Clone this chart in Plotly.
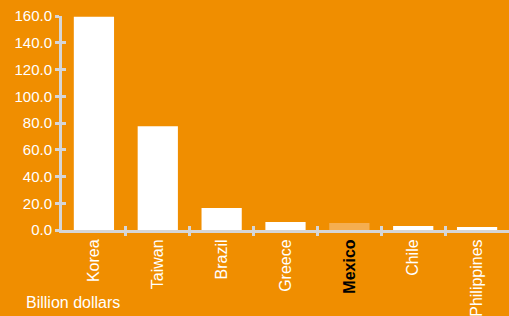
import plotly.graph_objects as go

categories = ["Korea", "Taiwan", "Brazil", "Greece", "Mexico", "Chile", "Philippines"]
values = [159.5, 77.5, 16.5, 6.0, 5.2, 3.0, 2.2]
highlight = "Mexico"
y_ticks = [0, 20, 40, 60, 80, 100, 120, 140, 160]
unit_label = "Billion dollars"

BG = "#F08E00"
AXIS = "#D6D6D6"
FONT = "Arial, Liberation Sans, sans-serif"

n = len(categories)
colors = ["#F5AE50" if c == highlight else "#FFFFFF" for c in categories]
ticktext = [
    f"<b><span style='color:#000000'>{c}</span></b>" if c == highlight else c
    for c in categories
]

fig = go.Figure()
fig.add_trace(go.Bar(x=list(range(n)), y=values, marker=dict(color=colors, line=dict(width=0)),
                     xaxis="x", yaxis="y", hoverinfo="skip"))

xr = [-0.5, n - 0.5]
yr = [0, max(y_ticks)]
bounds = [i + 0.5 for i in range(n - 1)]

fig.update_layout(
    width=509, height=316,
    margin=dict(l=62, r=0, t=16, b=86),
    paper_bgcolor=BG, plot_bgcolor=BG,
    showlegend=False,
    bargap=0.37,
    font=dict(family=FONT, color="#FFFFFF", size=16),
    xaxis=dict(range=xr, tickvals=list(range(n)), ticktext=ticktext, tickangle=-90,
               ticks="", showgrid=False, zeroline=False, showline=True,
               linecolor=AXIS, linewidth=3, tickfont=dict(size=16, color="#FFFFFF"),
               fixedrange=True),
    xaxis2=dict(range=xr, overlaying="x", anchor="y", tickvals=bounds, ticks="outside",
                ticklen=5, tickwidth=3, tickcolor=AXIS, showticklabels=False,
                showgrid=False, zeroline=False, showline=False),
    xaxis3=dict(range=xr, overlaying="x", anchor="y", tickvals=bounds, ticks="inside",
                ticklen=4, tickwidth=3, tickcolor=AXIS, showticklabels=False,
                showgrid=False, zeroline=False, showline=False),
    yaxis=dict(range=yr, tickvals=y_ticks, tickformat=".1f", ticks="outside",
               ticklen=4, tickwidth=3, tickcolor=AXIS, showgrid=False, zeroline=False,
               showline=True, linecolor=AXIS, linewidth=3,
               tickfont=dict(size=15, color="#FFFFFF")),
    yaxis2=dict(range=yr, overlaying="y", anchor="x", tickvals=y_ticks, ticks="inside",
                ticklen=4, tickwidth=3, tickcolor=AXIS, showticklabels=False,
                showgrid=False, zeroline=False, showline=False),
)

# invisible helper traces so the overlay axes get drawn
fig.add_trace(go.Scatter(x=[xr[0]], y=[0], xaxis="x2", yaxis="y", mode="markers",
                         marker=dict(opacity=0), hoverinfo="skip"))
fig.add_trace(go.Scatter(x=[xr[0]], y=[0], xaxis="x3", yaxis="y", mode="markers",
                         marker=dict(opacity=0), hoverinfo="skip"))
fig.add_trace(go.Scatter(x=[xr[0]], y=[0], xaxis="x", yaxis="y2", mode="markers",
                         marker=dict(opacity=0), hoverinfo="skip"))

fig.add_annotation(text=unit_label, xref="paper", yref="paper", x=-38 / 447,
                   y=-83 / 214, xanchor="left", yanchor="bottom", showarrow=False,
                   font=dict(size=16, color="#FFFFFF"))

fig.write_html("out.html", config={"displayModeBar": False},
               post_script="document.body.style.margin='0';document.body.style.overflow='hidden';")
